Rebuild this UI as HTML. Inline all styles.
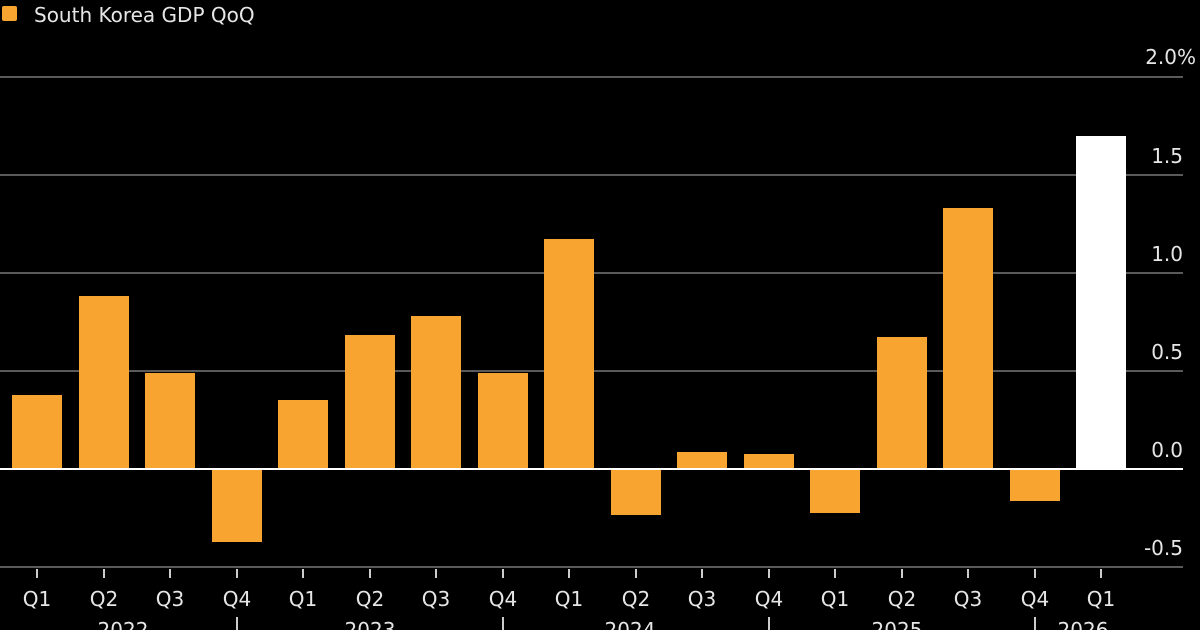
<!DOCTYPE html>
<html><head><style>
html,body{margin:0;padding:0;background:#000;width:1200px;height:630px;overflow:hidden}
text{font-family:"DejaVu Sans","Liberation Sans",sans-serif;fill:#e6e6e6}
</style></head><body>
<svg width="1200" height="630" viewBox="0 0 1200 630" xmlns="http://www.w3.org/2000/svg">
<rect width="1200" height="630" fill="#000"/>
<rect x="2" y="6" width="15" height="15" rx="2" fill="#f7a530"/>
<text x="34" y="22" font-size="20">South Korea GDP QoQ</text>
<g stroke="#5a5a5a" stroke-width="2">
<line x1="0" y1="77" x2="1183" y2="77"/>
<line x1="0" y1="175" x2="1183" y2="175"/>
<line x1="0" y1="273" x2="1183" y2="273"/>
<line x1="0" y1="371" x2="1183" y2="371"/>
<line x1="0" y1="567" x2="1183" y2="567"/>
</g>
<g font-size="20" text-anchor="end">
<text x="1196" y="64">2.0%</text>
<text x="1183" y="163">1.5</text>
<text x="1183" y="261">1.0</text>
<text x="1183" y="359">0.5</text>
<text x="1183" y="457">0.0</text>
<text x="1183" y="555">-0.5</text>
</g>
<g fill="#f7a530">
<rect x="12" y="395" width="50" height="74"/>
<rect x="79" y="296" width="50" height="173"/>
<rect x="145" y="373" width="50" height="96"/>
<rect x="212" y="469" width="50" height="73"/>
<rect x="278" y="400" width="50" height="69"/>
<rect x="345" y="335" width="50" height="134"/>
<rect x="411" y="316" width="50" height="153"/>
<rect x="478" y="373" width="50" height="96"/>
<rect x="544" y="239" width="50" height="230"/>
<rect x="611" y="469" width="50" height="46"/>
<rect x="677" y="452" width="50" height="17"/>
<rect x="744" y="454" width="50" height="15"/>
<rect x="810" y="469" width="50" height="44"/>
<rect x="877" y="337" width="50" height="132"/>
<rect x="943" y="208" width="50" height="261"/>
<rect x="1010" y="469" width="50" height="32"/>
</g>
<rect x="1076" y="136" width="50" height="333" fill="#fff"/>
<line x1="0" y1="469" x2="1183" y2="469" stroke="#fff" stroke-width="2"/>
<g stroke="#ccc" stroke-width="2">
<line x1="37" y1="569" x2="37" y2="578"/><line x1="104" y1="569" x2="104" y2="578"/>
<line x1="170" y1="569" x2="170" y2="578"/><line x1="237" y1="569" x2="237" y2="578"/>
<line x1="303" y1="569" x2="303" y2="578"/><line x1="370" y1="569" x2="370" y2="578"/>
<line x1="436" y1="569" x2="436" y2="578"/><line x1="503" y1="569" x2="503" y2="578"/>
<line x1="569" y1="569" x2="569" y2="578"/><line x1="636" y1="569" x2="636" y2="578"/>
<line x1="702" y1="569" x2="702" y2="578"/><line x1="769" y1="569" x2="769" y2="578"/>
<line x1="835" y1="569" x2="835" y2="578"/><line x1="902" y1="569" x2="902" y2="578"/>
<line x1="968" y1="569" x2="968" y2="578"/><line x1="1035" y1="569" x2="1035" y2="578"/>
<line x1="1101" y1="569" x2="1101" y2="578"/>
<line x1="237" y1="617" x2="237" y2="630"/><line x1="503" y1="617" x2="503" y2="630"/>
<line x1="769" y1="617" x2="769" y2="630"/><line x1="1035" y1="617" x2="1035" y2="630"/>
</g>
<g font-size="20" text-anchor="middle">
<text x="37" y="606">Q1</text><text x="104" y="606">Q2</text><text x="170" y="606">Q3</text><text x="237" y="606">Q4</text>
<text x="303" y="606">Q1</text><text x="370" y="606">Q2</text><text x="436" y="606">Q3</text><text x="503" y="606">Q4</text>
<text x="569" y="606">Q1</text><text x="636" y="606">Q2</text><text x="702" y="606">Q3</text><text x="769" y="606">Q4</text>
<text x="835" y="606">Q1</text><text x="902" y="606">Q2</text><text x="968" y="606">Q3</text><text x="1035" y="606">Q4</text>
<text x="1101" y="606">Q1</text>
<text x="123" y="637">2022</text><text x="370" y="637">2023</text>
<text x="630" y="637">2024</text><text x="897" y="637">2025</text><text x="1083" y="637">2026</text>
</g>
</svg>
</body></html>
